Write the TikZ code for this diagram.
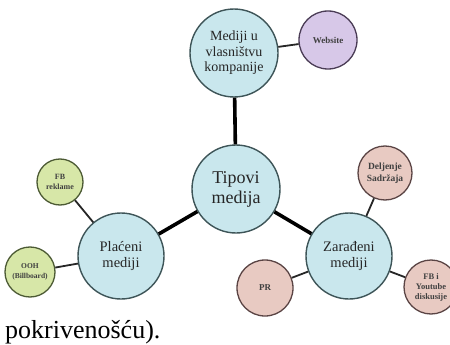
\documentclass[tikz,border=0pt]{standalone}
\usepackage{fontspec}
\setmainfont{Liberation Serif}
\definecolor{bluefill}{HTML}{C9E7ED}
\definecolor{blueline}{HTML}{3E5558}
\definecolor{greenfill}{HTML}{D7E7A8}
\definecolor{greenline}{HTML}{4C5A34}
\definecolor{purplefill}{HTML}{D7C8E8}
\definecolor{purpleline}{HTML}{4A3C55}
\definecolor{pinkfill}{HTML}{E8CAC2}
\definecolor{pinkline}{HTML}{5A4444}
\begin{document}
\begin{tikzpicture}[x=1pt,y=-1pt,
  bigc/.style={circle,draw=blueline,fill=bluefill,line width=1.4pt,inner sep=0pt,align=center,text=black!85},
  smallc/.style={circle,line width=1.3pt,inner sep=0pt,align=center,text=black!75,font=\fontsize{9}{10.5}\selectfont\bfseries},
  thick conn/.style={line width=3.6pt,black},
  thin conn/.style={line width=1.8pt,black!85}]
\useasboundingbox (0,0) rectangle (450,345);
\node[bigc,minimum size=88pt,font=\fontsize{18}{20}\selectfont] (tip) at (236,189) {Tipovi\\medija};
\node[bigc,minimum size=88pt,font=\fontsize{14}{15.5}\selectfont] (own) at (234,53) {Mediji u\\vlasništvu\\kompanije};
\node[bigc,minimum size=86pt,font=\fontsize{14.5}{16}\selectfont] (paid) at (121,256) {Plaćeni\\mediji};
\node[bigc,minimum size=86pt,font=\fontsize{14.5}{16}\selectfont] (earned) at (349,256) {Zarađeni\\mediji};
\node[smallc,draw=purpleline,fill=purplefill,minimum size=58pt] (web) at (328,40) {Website};
\node[smallc,draw=greenline,fill=greenfill,minimum size=46pt,font=\fontsize{8}{10}\selectfont\bfseries] (fbr) at (60,182) {FB\\reklame};
\node[smallc,draw=greenline,fill=greenfill,minimum size=50pt,font=\fontsize{7.5}{10}\selectfont\bfseries] (ooh) at (30,272) {OOH\\(Billboard)};
\node[smallc,draw=pinkline,fill=pinkfill,minimum size=54pt,font=\fontsize{9.5}{12}\selectfont\bfseries] (del) at (385,173) {Deljenje\\Sadržaja};
\node[smallc,draw=pinkline,fill=pinkfill,minimum size=56pt] (pr) at (265,288) {PR};
\node[smallc,draw=pinkline,fill=pinkfill,minimum size=54pt,font=\fontsize{8.5}{10}\selectfont\bfseries] (fby) at (431,287) {FB i\\Youtube\\diskusije};
\draw[thick conn] (tip) -- (own);
\draw[thick conn] (tip) -- (paid);
\draw[thick conn] (tip) -- (earned);
\draw[thin conn] (own) -- (web);
\draw[thin conn] (paid) -- (fbr);
\draw[thin conn] (paid) -- (ooh);
\draw[thin conn] (earned) -- (del);
\draw[thin conn] (earned) -- (pr);
\draw[thin conn] (earned) -- (fby);
\node[anchor=base west,inner sep=0pt,font=\fontsize{26}{28}\selectfont] (cap) at (5,338) {pokrivenošću).};
\end{tikzpicture}
\end{document}
